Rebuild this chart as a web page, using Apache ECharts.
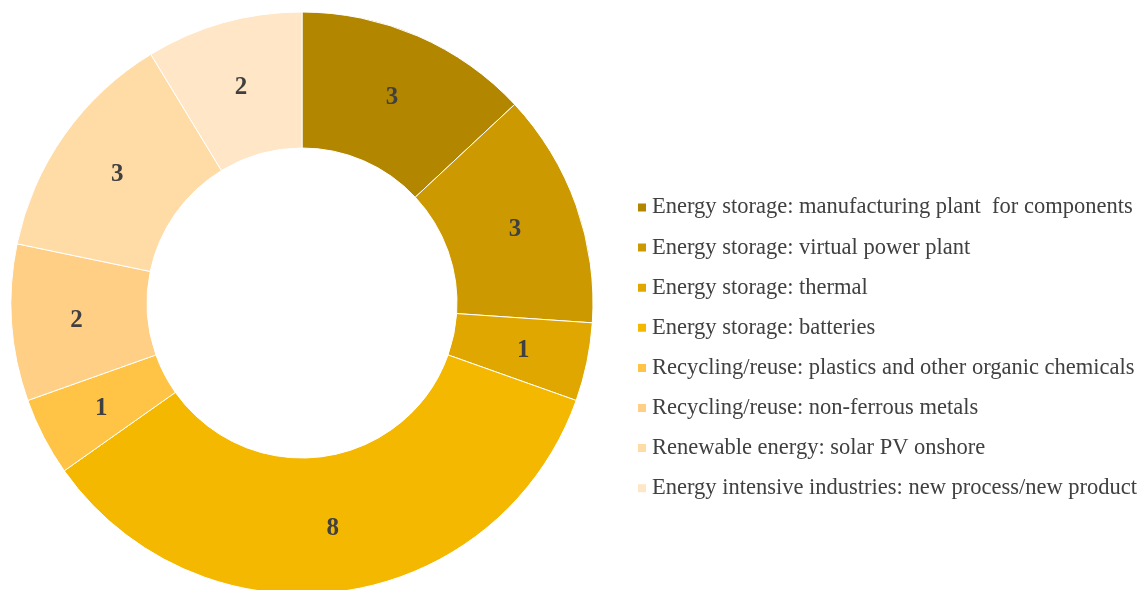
<!DOCTYPE html>
<html><head><meta charset="utf-8">
<script src="https://cdn.jsdelivr.net/npm/echarts@6/dist/echarts.min.js"></script>
<style>html,body{margin:0;padding:0;background:#fff}#c{width:1141px;height:590px}</style>
</head><body><div id="c"></div>
<script>
const categories = [
  "Energy storage: manufacturing plant  for components",
  "Energy storage: virtual power plant",
  "Energy storage: thermal",
  "Energy storage: batteries",
  "Recycling/reuse: plastics and other organic chemicals",
  "Recycling/reuse: non-ferrous metals",
  "Renewable energy: solar PV onshore",
  "Energy intensive industries: new process/new product"
];
const values = [3, 3, 1, 8, 1, 2, 3, 2];
const colors = ["#B38600", "#CC9A00", "#E0A700", "#F5B800", "#FFC445", "#FFCF85", "#FFDBA6", "#FFE6C6"];

const chart = echarts.init(document.getElementById('c'), null, {renderer: 'canvas'});
chart.setOption({
  animation: false,
  color: colors,
  legend: {
    orient: 'vertical',
    left: 631,
    top: 191,
    itemWidth: 10,
    itemHeight: 10,
    itemGap: 17.1,
    icon: 'rect',
    selectedMode: false,
    textStyle: {fontFamily: 'Liberation Serif', fontSize: 22.5, color: '#404040', lineHeight: 22},
    data: categories
  },
  series: [{
    type: 'pie',
    center: [302, 303],
    radius: [155, 291],
    startAngle: 90,
    clockwise: true,
    avoidLabelOverlap: false,
    silent: true,
    itemStyle: {borderColor: '#fff', borderWidth: 1},
    label: {
      show: true, position: 'inside', formatter: '{c}', offset: [0, 2],
      fontFamily: 'Liberation Serif', fontWeight: 'bold', fontSize: 25, color: '#404040'
    },
    labelLine: {show: false},
    data: categories.map((n, i) => ({name: n, value: values[i]}))
  }]
});
</script></body></html>
